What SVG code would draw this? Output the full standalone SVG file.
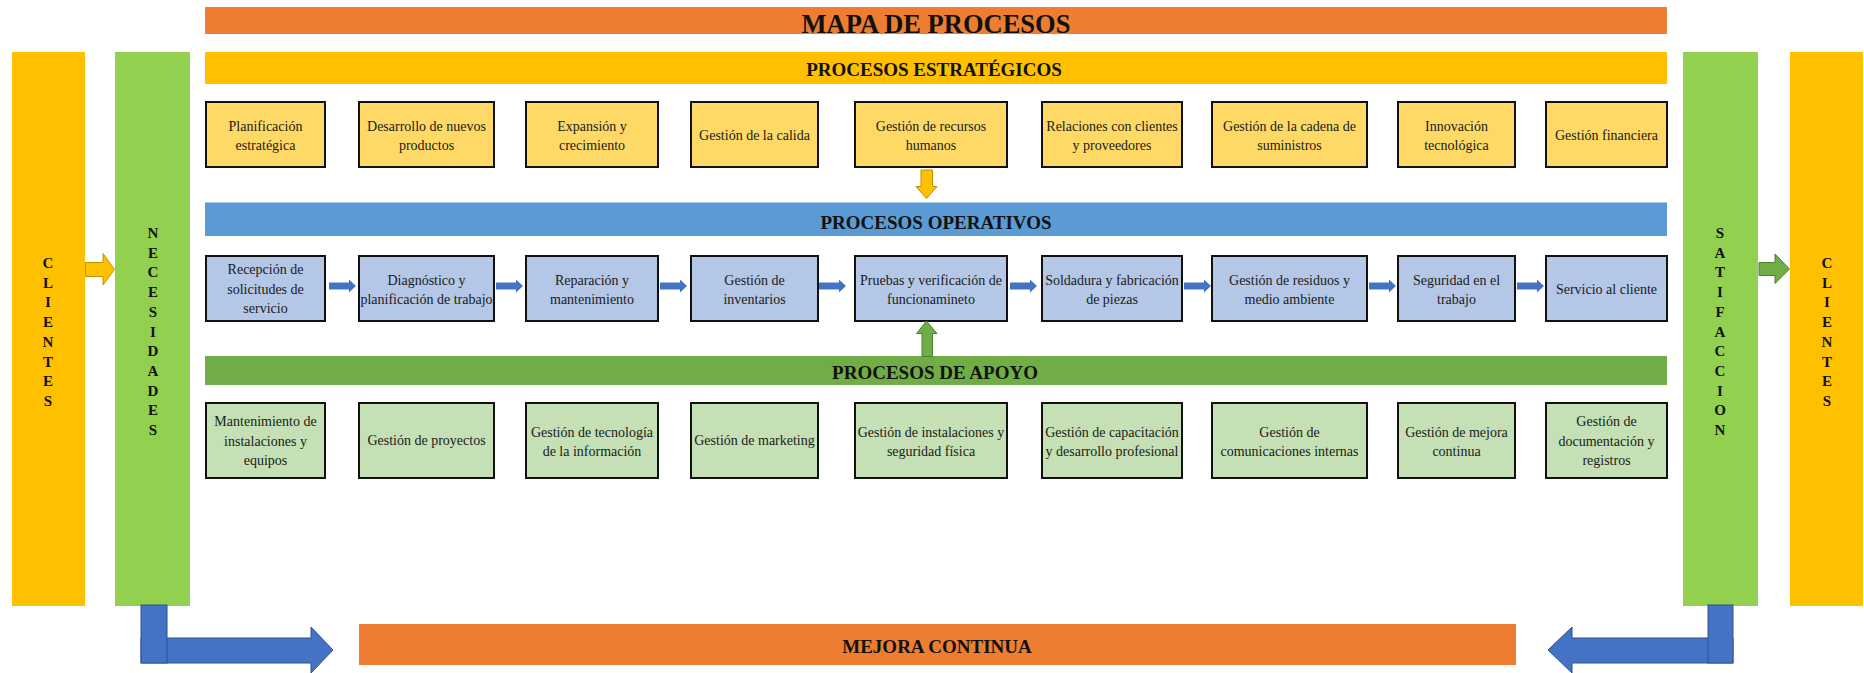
<svg xmlns="http://www.w3.org/2000/svg" width="1864" height="673" viewBox="0 0 1864 673">
<style>
  .bar-title{font-family:"Liberation Serif","Times New Roman",serif;font-weight:bold;fill:#111;text-anchor:middle}
  .vert{font-family:"Liberation Serif","Times New Roman",serif;font-weight:bold;font-size:15px;fill:#111;text-anchor:middle}
  .bt{font-family:"Liberation Serif","Times New Roman",serif;font-size:14px;fill:#1a1a1a;text-anchor:middle}
  .est{fill:#FFD966;stroke:#111;stroke-width:2}
  .ope{fill:#B4C7E7;stroke:#111;stroke-width:2}
  .apo{fill:#C5E0B4;stroke:#111;stroke-width:2}
  .oparrow{fill:#4472C4;stroke:none}
  .bigblue{fill:#4472C4;stroke:#2F528F;stroke-width:1}
</style>
<defs>
  <path id="opArrow" d="M0,-3.5 H20 V-6.5 L27,0 L20,6.5 V3.5 H0 Z"/>
</defs>
<rect width="1864" height="673" fill="#fff"/>

<!-- Title bar -->
<g id="titulo">
  <rect x="205" y="7" width="1462" height="27" fill="#ED7D31"/>
  <text class="bar-title" x="936" y="33" font-size="26.5">MAPA DE PROCESOS</text>
</g>

<!-- Side columns -->
<g id="clientes-izq">
  <rect x="12" y="52" width="73" height="554" fill="#FFC000"/>
  <text class="vert"><tspan x="48" y="268">C</tspan><tspan x="48" dy="19.7">L</tspan><tspan x="48" dy="19.7">I</tspan><tspan x="48" dy="19.7">E</tspan><tspan x="48" dy="19.7">N</tspan><tspan x="48" dy="19.7">T</tspan><tspan x="48" dy="19.7">E</tspan><tspan x="48" dy="19.7">S</tspan></text>
</g>
<g id="necesidades">
  <rect x="115" y="52" width="75" height="554" fill="#92D050"/>
  <text class="vert"><tspan x="153" y="238">N</tspan><tspan x="153" dy="19.7">E</tspan><tspan x="153" dy="19.7">C</tspan><tspan x="153" dy="19.7">E</tspan><tspan x="153" dy="19.7">S</tspan><tspan x="153" dy="19.7">I</tspan><tspan x="153" dy="19.7">D</tspan><tspan x="153" dy="19.7">A</tspan><tspan x="153" dy="19.7">D</tspan><tspan x="153" dy="19.7">E</tspan><tspan x="153" dy="19.7">S</tspan></text>
</g>
<g id="satisfaccion">
  <rect x="1683" y="52" width="75" height="554" fill="#92D050"/>
  <text class="vert"><tspan x="1720" y="238">S</tspan><tspan x="1720" dy="19.7">A</tspan><tspan x="1720" dy="19.7">T</tspan><tspan x="1720" dy="19.7">I</tspan><tspan x="1720" dy="19.7">F</tspan><tspan x="1720" dy="19.7">A</tspan><tspan x="1720" dy="19.7">C</tspan><tspan x="1720" dy="19.7">C</tspan><tspan x="1720" dy="19.7">I</tspan><tspan x="1720" dy="19.7">O</tspan><tspan x="1720" dy="19.7">N</tspan></text>
</g>
<g id="clientes-der">
  <rect x="1790" y="52" width="73" height="554" fill="#FFC000"/>
  <text class="vert"><tspan x="1827" y="268">C</tspan><tspan x="1827" dy="19.7">L</tspan><tspan x="1827" dy="19.7">I</tspan><tspan x="1827" dy="19.7">E</tspan><tspan x="1827" dy="19.7">N</tspan><tspan x="1827" dy="19.7">T</tspan><tspan x="1827" dy="19.7">E</tspan><tspan x="1827" dy="19.7">S</tspan></text>
</g>

<!-- Section bars -->
<g id="procesos-estrategicos">
  <rect x="205" y="52" width="1462" height="32" fill="#FFC000"/>
  <text class="bar-title" x="934" y="76" font-size="19">PROCESOS ESTRATÉGICOS</text>
</g>
<g id="procesos-operativos">
  <rect x="205" y="202.5" width="1462" height="33.5" fill="#5B9BD5"/>
  <text class="bar-title" x="936" y="228.5" font-size="19">PROCESOS OPERATIVOS</text>
</g>
<g id="procesos-apoyo">
  <rect x="205" y="356" width="1462" height="29" fill="#70AD47"/>
  <text class="bar-title" x="935" y="379" font-size="19">PROCESOS DE APOYO</text>
</g>
<g id="mejora-continua">
  <rect x="359" y="624" width="1157" height="41" fill="#ED7D31"/>
  <text class="bar-title" x="937" y="653" font-size="19">MEJORA CONTINUA</text>
</g>

<!-- Strategic boxes -->
<g id="e1"><rect class="est" x="206" y="102" width="119" height="65"/><text class="bt"><tspan x="265.5" y="130.5">Planificación</tspan><tspan x="265.5" y="149.5">estratégica</tspan></text></g>
<g id="e2"><rect class="est" x="359" y="102" width="135" height="65"/><text class="bt"><tspan x="426.5" y="130.5">Desarrollo de nuevos</tspan><tspan x="426.5" y="149.5">productos</tspan></text></g>
<g id="e3"><rect class="est" x="526" y="102" width="132" height="65"/><text class="bt"><tspan x="592" y="130.5">Expansión y</tspan><tspan x="592" y="149.5">crecimiento</tspan></text></g>
<g id="e4"><rect class="est" x="691" y="102" width="127" height="65"/><text class="bt" x="754.5" y="140">Gestión de la calida</text></g>
<g id="e5"><rect class="est" x="855" y="102" width="152" height="65"/><text class="bt"><tspan x="931" y="130.5">Gestión de recursos</tspan><tspan x="931" y="149.5">humanos</tspan></text></g>
<g id="e6"><rect class="est" x="1042" y="102" width="140" height="65"/><text class="bt"><tspan x="1112" y="130.5">Relaciones con clientes</tspan><tspan x="1112" y="149.5">y proveedores</tspan></text></g>
<g id="e7"><rect class="est" x="1212" y="102" width="155" height="65"/><text class="bt"><tspan x="1289.5" y="130.5">Gestión de la cadena de</tspan><tspan x="1289.5" y="149.5">suministros</tspan></text></g>
<g id="e8"><rect class="est" x="1398" y="102" width="117" height="65"/><text class="bt"><tspan x="1456.5" y="130.5">Innovación</tspan><tspan x="1456.5" y="149.5">tecnológica</tspan></text></g>
<g id="e9"><rect class="est" x="1546" y="102" width="121" height="65"/><text class="bt" x="1606.5" y="140">Gestión financiera</text></g>

<!-- Operative boxes -->
<g id="o1"><rect class="ope" x="206" y="256" width="119" height="65"/><text class="bt"><tspan x="265.5" y="274">Recepción de</tspan><tspan x="265.5" y="293.5">solicitudes de</tspan><tspan x="265.5" y="313">servicio</tspan></text></g>
<g id="o2"><rect class="ope" x="359" y="256" width="135" height="65"/><text class="bt"><tspan x="426.5" y="284.5">Diagnóstico y</tspan><tspan x="426.5" y="303.5">planificación de trabajo</tspan></text></g>
<g id="o3"><rect class="ope" x="526" y="256" width="132" height="65"/><text class="bt"><tspan x="592" y="284.5">Reparación y</tspan><tspan x="592" y="303.5">mantenimiento</tspan></text></g>
<g id="o4"><rect class="ope" x="691" y="256" width="127" height="65"/><text class="bt"><tspan x="754.5" y="284.5">Gestión de</tspan><tspan x="754.5" y="303.5">inventarios</tspan></text></g>
<g id="o5"><rect class="ope" x="855" y="256" width="152" height="65"/><text class="bt"><tspan x="931" y="284.5">Pruebas y verificación de</tspan><tspan x="931" y="303.5">funcionamineto</tspan></text></g>
<g id="o6"><rect class="ope" x="1042" y="256" width="140" height="65"/><text class="bt"><tspan x="1112" y="284.5">Soldadura y fabricación</tspan><tspan x="1112" y="303.5">de piezas</tspan></text></g>
<g id="o7"><rect class="ope" x="1212" y="256" width="155" height="65"/><text class="bt"><tspan x="1289.5" y="284.5">Gestión de residuos y</tspan><tspan x="1289.5" y="303.5">medio ambiente</tspan></text></g>
<g id="o8"><rect class="ope" x="1398" y="256" width="117" height="65"/><text class="bt"><tspan x="1456.5" y="284.5">Seguridad en el</tspan><tspan x="1456.5" y="303.5">trabajo</tspan></text></g>
<g id="o9"><rect class="ope" x="1546" y="256" width="121" height="65"/><text class="bt" x="1606.5" y="294">Servicio al cliente</text></g>

<!-- Support boxes -->
<g id="a1"><rect class="apo" x="206" y="403" width="119" height="75"/><text class="bt"><tspan x="265.5" y="426">Mantenimiento de</tspan><tspan x="265.5" y="445.5">instalaciones y</tspan><tspan x="265.5" y="465">equipos</tspan></text></g>
<g id="a2"><rect class="apo" x="359" y="403" width="135" height="75"/><text class="bt" x="426.5" y="445">Gestión de proyectos</text></g>
<g id="a3"><rect class="apo" x="526" y="403" width="132" height="75"/><text class="bt"><tspan x="592" y="436.5">Gestión de tecnología</tspan><tspan x="592" y="455.5">de la información</tspan></text></g>
<g id="a4"><rect class="apo" x="691" y="403" width="127" height="75"/><text class="bt" x="754.5" y="445">Gestión de marketing</text></g>
<g id="a5"><rect class="apo" x="855" y="403" width="152" height="75"/><text class="bt"><tspan x="931" y="436.5">Gestión de instalaciones y</tspan><tspan x="931" y="455.5">seguridad física</tspan></text></g>
<g id="a6"><rect class="apo" x="1042" y="403" width="140" height="75"/><text class="bt"><tspan x="1112" y="436.5">Gestión de capacitación</tspan><tspan x="1112" y="455.5">y desarrollo profesional</tspan></text></g>
<g id="a7"><rect class="apo" x="1212" y="403" width="155" height="75"/><text class="bt"><tspan x="1289.5" y="436.5">Gestión de</tspan><tspan x="1289.5" y="455.5">comunicaciones internas</tspan></text></g>
<g id="a8"><rect class="apo" x="1398" y="403" width="117" height="75"/><text class="bt"><tspan x="1456.5" y="436.5">Gestión de mejora</tspan><tspan x="1456.5" y="455.5">continua</tspan></text></g>
<g id="a9"><rect class="apo" x="1546" y="403" width="121" height="75"/><text class="bt"><tspan x="1606.5" y="426">Gestión de</tspan><tspan x="1606.5" y="445.5">documentación y</tspan><tspan x="1606.5" y="465">registros</tspan></text></g>

<!-- Connectors -->
<g id="conectores">
  <!-- operative flow arrows -->
  <use href="#opArrow" class="oparrow" x="329" y="286"/>
  <use href="#opArrow" class="oparrow" x="496" y="286"/>
  <use href="#opArrow" class="oparrow" x="660" y="286"/>
  <use href="#opArrow" class="oparrow" x="819" y="286"/>
  <use href="#opArrow" class="oparrow" x="1010" y="286"/>
  <use href="#opArrow" class="oparrow" x="1184" y="286"/>
  <use href="#opArrow" class="oparrow" x="1369" y="286"/>
  <use href="#opArrow" class="oparrow" x="1517" y="286"/>
  <!-- clientes -> necesidades -->
  <path d="M85.5,262.5 H103 V253.5 L114.5,269.5 L103,285 V276.5 H85.5 Z" fill="#FFC000" stroke="#BF9000" stroke-width="1"/>
  <!-- satisfaccion -> clientes -->
  <path d="M1759,262.5 H1775 V254 L1789.5,269 L1775,283.5 V275.5 H1759 Z" fill="#70AD47" stroke="#507E32" stroke-width="1"/>
  <!-- strategic down arrow -->
  <path d="M921,170 H932.5 V186.5 H937 L926.5,198.5 L916,186.5 H921 Z" fill="#FFC000" stroke="#BF9000" stroke-width="1"/>
  <!-- support up arrow -->
  <path d="M922,356.5 H932.5 V333.5 H937 L926.5,321 L916.5,333.5 H922 Z" fill="#70AD47" stroke="#507E32" stroke-width="1"/>
  <!-- left L arrow to mejora continua -->
  <path class="bigblue" d="M141,638 H311 V627 L333,650 L311,673 V663 H141 Z"/>
  <rect class="bigblue" x="141" y="605" width="26" height="58"/>
  <!-- right L arrow to mejora continua -->
  <path class="bigblue" d="M1733,638 H1572 V627 L1548,650 L1572,673 V663 H1733 Z"/>
  <rect class="bigblue" x="1708" y="605" width="25" height="58"/>
</g>
</svg>
